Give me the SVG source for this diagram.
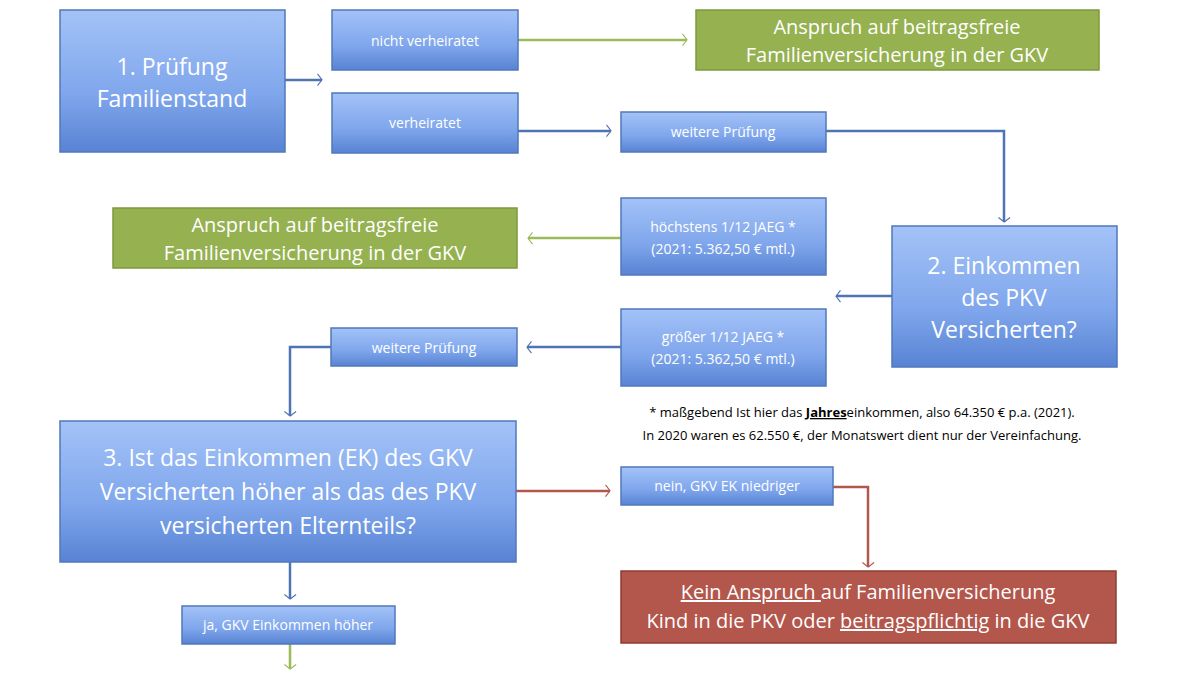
<svg xmlns="http://www.w3.org/2000/svg" width="1200" height="675" viewBox="0 0 1200 675">
<defs>
<linearGradient id="gb" x1="0" y1="0" x2="0" y2="1"><stop offset="0" stop-color="#a3c2f7"/><stop offset="0.6" stop-color="#7fa6ec"/><stop offset="1" stop-color="#5883d3"/></linearGradient>
<marker id="ab" viewBox="0 0 10 10" refX="9" refY="5" markerWidth="5" markerHeight="5" orient="auto" markerUnits="userSpaceOnUse" overflow="visible"><path d="M0,-8 L10,5 L0,18" transform="scale(0.9)" fill="none" stroke="#4f74b4" stroke-width="2.5"/></marker>
<marker id="ag" viewBox="0 0 10 10" refX="9" refY="5" markerWidth="5" markerHeight="5" orient="auto" markerUnits="userSpaceOnUse" overflow="visible"><path d="M0,-8 L10,5 L0,18" transform="scale(0.9)" fill="none" stroke="#9bbb59" stroke-width="2.5"/></marker>
<marker id="ar" viewBox="0 0 10 10" refX="9" refY="5" markerWidth="5" markerHeight="5" orient="auto" markerUnits="userSpaceOnUse" overflow="visible"><path d="M0,-8 L10,5 L0,18" transform="scale(0.9)" fill="none" stroke="#b4574b" stroke-width="2.5"/></marker>
</defs>
<style>
.b{fill:url(#gb);stroke:#5278bb;stroke-width:1.5}
.g{fill:#95b150;stroke:#7d9a3c;stroke-width:1.5}
.r{fill:#b3564b;stroke:#8f3d33;stroke-width:1.5}
text{font-family:"Open Sans","Liberation Sans",sans-serif;fill:#fff;text-anchor:middle}
.s{font-size:14px}.m{font-size:20px}.l{font-size:23px}
.cb{fill:none;stroke:#4f74b4;stroke-width:2.5;marker-end:url(#ab)}
.cg{fill:none;stroke:#9bbb59;stroke-width:2.5;marker-end:url(#ag)}
.cr{fill:none;stroke:#b4574b;stroke-width:2.5;marker-end:url(#ar)}
.k{fill:#000;font-size:13px}
</style>
<rect width="1200" height="675" fill="#fff"/>
<g id="connectors">
<path class="cb" d="M285,80 H322"/>
<path class="cg" d="M518,40 H687"/>
<path class="cb" d="M518,131 H611"/>
<path class="cb" d="M826,131 H1004 V222"/>
<path class="cg" d="M621,238 H528"/>
<path class="cb" d="M892,296 H836"/>
<path class="cb" d="M621,347 H527"/>
<path class="cb" d="M331,347 H290 V416"/>
<path class="cr" d="M516,491 H610"/>
<path class="cr" d="M833,487 H868 V567"/>
<path class="cb" d="M290,562 V599"/>
<path class="cg" d="M290,644 V669"/>
</g>
<g id="n1"><rect class="b" x="60" y="10" width="225" height="142"/><text class="l" x="172" y="75">1. Prüfung</text><text class="l" x="172" y="107">Familienstand</text></g>
<g id="n-nicht"><rect class="b" x="332" y="10" width="186" height="60"/><text class="s" x="425" y="46">nicht verheiratet</text></g>
<g id="n-verh"><rect class="b" x="332" y="93" width="186" height="60"/><text class="s" x="425" y="128">verheiratet</text></g>
<g id="g1"><rect class="g" x="696" y="10" width="403" height="60"/><text class="m" x="897" y="34">Anspruch auf beitragsfreie</text><text class="m" x="897" y="62">Familienversicherung in der GKV</text></g>
<g id="wp1"><rect class="b" x="621" y="112" width="205" height="40"/><text class="s" x="723" y="137">weitere Prüfung</text></g>
<g id="g2"><rect class="g" x="113" y="208" width="404" height="60"/><text class="m" x="315" y="232">Anspruch auf beitragsfreie</text><text class="m" x="315" y="260">Familienversicherung in der GKV</text></g>
<g id="hoechstens"><rect class="b" x="621" y="198" width="205" height="77"/><text class="s" x="723" y="232">höchstens 1/12 JAEG *</text><text class="s" x="723" y="254">(2021: 5.362,50 € mtl.)</text></g>
<g id="n2"><rect class="b" x="892" y="226" width="225" height="141"/><text class="l" x="1004" y="274">2. Einkommen</text><text class="l" x="1004" y="306">des PKV</text><text class="l" x="1004" y="338">Versicherten?</text></g>
<g id="groesser"><rect class="b" x="621" y="309" width="205" height="77"/><text class="s" x="723" y="342">größer 1/12 JAEG *</text><text class="s" x="723" y="364">(2021: 5.362,50 € mtl.)</text></g>
<g id="wp2"><rect class="b" x="331" y="328" width="186" height="38"/><text class="s" x="424" y="353">weitere Prüfung</text></g>
<g id="note"><text class="k" x="862" y="417">* maßgebend Ist hier das <tspan font-weight="bold" text-decoration="underline">Jahres</tspan>einkommen, also 64.350 € p.a. (2021).</text><text class="k" x="862" y="440">In 2020 waren es 62.550 €, der Monatswert dient nur der Vereinfachung.</text></g>
<g id="n3"><rect class="b" x="60" y="421" width="456" height="141"/><text class="l" x="288" y="466">3. Ist das Einkommen (EK) des GKV</text><text class="l" x="288" y="500">Versicherten höher als das des PKV</text><text class="l" x="288" y="534">versicherten Elternteils?</text></g>
<g id="nein"><rect class="b" x="621" y="467" width="212" height="38"/><text class="s" x="727" y="491" font-size="13">nein, GKV EK niedriger</text></g>
<g id="red"><rect class="r" x="621" y="571" width="495" height="72"/><text class="m" x="868" y="599"><tspan text-decoration="underline">Kein Anspruch </tspan>auf Familienversicherung</text><text class="m" x="868" y="628">Kind in die PKV oder <tspan text-decoration="underline">beitragspflichtig</tspan> in die GKV</text></g>
<g id="ja"><rect class="b" x="182" y="606" width="213" height="38"/><text class="s" x="288" y="630" font-size="13">ja, GKV Einkommen höher</text></g>
</svg>
